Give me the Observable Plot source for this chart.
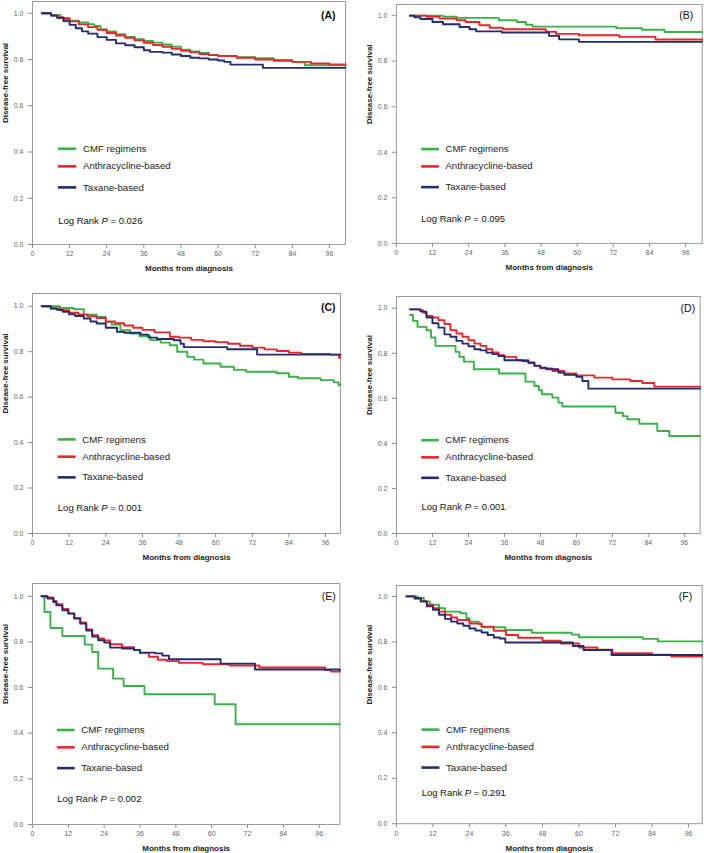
<!DOCTYPE html>
<html>
<head>
<meta charset="utf-8">
<script src="https://cdn.jsdelivr.net/npm/d3@7"></script>
<script src="https://cdn.jsdelivr.net/npm/@observablehq/plot@0.6"></script>
<style>
  html, body { margin: 0; padding: 0; background: #fff; overflow: hidden; }
  #wrap { position: relative; width: 704px; height: 853px; background: #fff; }
  .panel { position: absolute; }
</style>
</head>
<body>
<div id="wrap"></div>
<script>
// ---- categories, colours, ticks ----
const seriesNames = ["CMF regimens", "Anthracycline-based", "Taxane-based"];
const seriesColors = ["#3bb04a", "#e8262d", "#232c6e"];
const xTicks = [0, 12, 24, 36, 48, 60, 72, 84, 96];
const yTicks = [0, 0.2, 0.4, 0.6, 0.8, 1.0];
const panelTags = ["(A)", "(B)", "(C)", "(D)", "(E)", "(F)"];
const pValues = ["0.026", "0.095", "0.001", "0.001", "0.002", "0.291"];

// ---- survival data: [month of step, survival after step] ----
const A_CMF = [[3,1],[6,0.993],[9,0.98],[12,0.968],[15,0.96],[18,0.953],[20,0.945],[22,0.93],[24,0.922],[27,0.91],[30,0.898],[33,0.888],[36,0.88],[39,0.873],[42,0.865],[45,0.855],[48,0.842],[51,0.835],[54,0.828],[57,0.82],[60,0.816],[66,0.81],[72,0.806],[78,0.798],[84,0.79],[88,0.775],[101.2,0.772]];
const A_ANT = [[3,1],[6,0.99],[8,0.983],[10,0.975],[12,0.965],[15,0.952],[18,0.94],[21,0.929],[24,0.915],[27,0.904],[30,0.894],[33,0.883],[36,0.872],[39,0.863],[42,0.855],[45,0.846],[48,0.838],[51,0.831],[54,0.824],[57,0.819],[60,0.815],[66,0.808],[72,0.8],[78,0.795],[84,0.79],[90,0.783],[96,0.779],[101.2,0.776]];
const A_TAX = [[3,1],[6,0.99],[8,0.98],[10,0.966],[12,0.95],[14,0.935],[16,0.922],[18,0.912],[21,0.897],[24,0.885],[27,0.87],[30,0.862],[33,0.853],[36,0.84],[38,0.833],[42,0.83],[45,0.822],[48,0.815],[51,0.808],[54,0.805],[57,0.8],[60,0.796],[62,0.79],[64,0.778],[74.5,0.764],[101.2,0.764]];

const B_CMF = [[4.5,1],[15.5,0.995],[20,0.99],[34,0.98],[40,0.972],[43,0.96],[45.2,0.952],[73,0.945],[81.5,0.938],[89,0.928],[101.5,0.928]];
const B_ANT = [[4.5,1],[10,0.995],[14.4,0.987],[20,0.98],[23,0.972],[27.6,0.958],[31,0.947],[35.3,0.94],[49.6,0.929],[53,0.92],[60.6,0.914],[74,0.907],[86,0.895],[101.5,0.895]];
const B_TAX = [[4.5,1],[6,0.993],[8,0.985],[12,0.972],[15.5,0.962],[21,0.95],[24.3,0.94],[26.5,0.931],[35,0.926],[50.7,0.911],[54,0.896],[60.6,0.885],[101.5,0.885]];

const C_CMF = [[3,1],[9,0.992],[13.5,0.987],[16.8,0.963],[21,0.953],[24,0.931],[26,0.919],[28.8,0.894],[32,0.88],[35,0.868],[38.6,0.851],[42,0.84],[45,0.828],[47.4,0.8],[50.7,0.777],[53,0.765],[56,0.748],[61.6,0.734],[66,0.72],[70,0.712],[80,0.705],[84,0.69],[87,0.683],[94.4,0.675],[98.7,0.665],[100.3,0.652],[100.9,0.652]];
const C_ANT = [[3,1],[6,0.99],[9,0.982],[12,0.971],[15,0.964],[18,0.956],[21,0.948],[24,0.933],[27,0.925],[30,0.915],[33,0.905],[36,0.896],[40,0.885],[45,0.866],[48,0.862],[52,0.852],[56,0.846],[60,0.842],[64,0.835],[68,0.826],[72,0.818],[76,0.81],[80,0.803],[84,0.796],[88,0.79],[97.6,0.787],[100.4,0.773],[100.9,0.773]];
const C_TAX = [[3,1],[6,0.99],[8,0.984],[10,0.975],[12,0.964],[14,0.957],[16.8,0.946],[19,0.933],[21,0.924],[24,0.905],[27.7,0.887],[30,0.883],[35.4,0.875],[38,0.862],[40.8,0.856],[46.3,0.85],[48.5,0.835],[49.6,0.82],[63.8,0.811],[73.6,0.787],[100.9,0.787]];

const D_CMF = [[4.5,0.97],[5.5,0.944],[7,0.917],[10,0.902],[11.5,0.87],[13,0.833],[19.7,0.806],[21,0.784],[22.5,0.763],[25.8,0.729],[34.2,0.71],[43,0.674],[46,0.655],[47.5,0.636],[48.5,0.618],[52,0.603],[54,0.581],[55.3,0.564],[73,0.536],[75.5,0.521],[77,0.507],[81,0.487],[87,0.455],[91,0.433],[101.3,0.433]];
const D_ANT = [[4.5,0.995],[8,0.99],[9,0.98],[10,0.966],[12,0.959],[14,0.947],[16,0.93],[18,0.902],[20,0.888],[22,0.873],[24,0.858],[26,0.843],[28,0.833],[30,0.818],[32,0.804],[34,0.791],[36,0.784],[40,0.769],[44,0.757],[46,0.745],[48,0.733],[52,0.721],[56,0.71],[60,0.702],[66,0.692],[72,0.684],[78,0.677],[82,0.668],[86,0.652],[101.3,0.652]];
const D_TAX = [[4.5,0.995],[8,0.985],[10,0.959],[12,0.933],[14,0.914],[16,0.884],[18,0.873],[20,0.855],[22,0.843],[24,0.831],[26,0.818],[28,0.813],[30,0.803],[32,0.796],[34,0.788],[36,0.769],[42,0.766],[44,0.759],[46,0.744],[48,0.736],[50,0.729],[54,0.714],[56,0.704],[60,0.695],[62,0.677],[64,0.643],[101.3,0.643]];

const E_CMF = [[3.5,1],[4,0.931],[6,0.861],[10,0.826],[17.5,0.788],[20,0.756],[22,0.683],[27,0.639],[30.5,0.607],[37.5,0.571],[61,0.527],[68,0.439],[102.9,0.439]];
const E_ANT = [[3,1],[5,0.995],[7,0.98],[8,0.965],[10,0.945],[12,0.925],[14,0.905],[16,0.885],[18,0.855],[20,0.83],[22,0.815],[24,0.806],[26,0.79],[30,0.777],[34,0.765],[36,0.752],[39,0.735],[42,0.722],[45,0.716],[49,0.708],[57,0.702],[66,0.697],[76,0.688],[98,0.677],[100,0.67],[102.9,0.67]];
const E_TAX = [[3,1],[5,0.99],[7,0.975],[8,0.96],[10,0.939],[12,0.924],[14,0.902],[16,0.88],[18,0.85],[20,0.823],[22,0.807],[24,0.797],[26,0.775],[30,0.771],[34,0.764],[36,0.753],[41,0.75],[43.5,0.74],[45.7,0.724],[63,0.705],[74.5,0.679],[102.9,0.675]];

const F_CMF = [[3.3,1],[7,0.993],[9,0.978],[11,0.963],[14,0.948],[16,0.933],[21,0.926],[23,0.904],[24,0.889],[27,0.877],[28,0.864],[35.8,0.852],[44.5,0.84],[57.6,0.832],[60,0.82],[81,0.813],[86,0.802],[100.5,0.802]];
const F_ANT = [[3.3,1],[6,0.99],[8,0.978],[10,0.963],[12,0.948],[14,0.933],[16,0.919],[18,0.907],[20,0.896],[24,0.881],[28,0.867],[32,0.849],[36,0.83],[40,0.818],[48,0.805],[54,0.793],[60,0.775],[66,0.765],[71,0.75],[84,0.744],[90.4,0.735],[100.5,0.735]];
const F_TAX = [[3.3,1],[6,0.993],[8,0.978],[10,0.956],[12,0.941],[14,0.919],[16,0.901],[18,0.889],[20,0.881],[22,0.871],[24,0.859],[26,0.85],[28,0.841],[30,0.83],[32,0.819],[34,0.815],[35.8,0.797],[58,0.782],[61.5,0.764],[70.7,0.742],[100.5,0.742]];

// ---- panel layout (page pixels of each frame) ----
const panels = [
  {series:[A_CMF,A_ANT,A_TAX], L:32,    T:1,     R:345,   y0:244,   xmax:101.2, ymax:1.051, pY:0.104, tagDx:-10, tagDy:14,   tagBold:true},
  {series:[B_CMF,B_ANT,B_TAX], L:396.3, T:3.7,   R:704,   y0:244,   xmax:101.5, ymax:1.049, pY:0.109, tagDx:-9,  tagDy:11,   tagBold:false},
  {series:[C_CMF,C_ANT,C_TAX], L:32,    T:293,   R:340,   y0:533,   xmax:100.9, ymax:1.056, pY:0.113, tagDx:-5,  tagDy:13.7, tagBold:true},
  {series:[D_CMF,D_ANT,D_TAX], L:396.3, T:296.3, R:700,   y0:533.3, xmax:101.3, ymax:1.052, pY:0.118, tagDx:-5,  tagDy:11.7, tagBold:false},
  {series:[E_CMF,E_ANT,E_TAX], L:31.7,  T:583,   R:339,   y0:824,   xmax:102.9, ymax:1.056, pY:0.114, tagDx:-4,  tagDy:13,   tagBold:false},
  {series:[F_CMF,F_ANT,F_TAX], L:396.3, T:585.3, R:702.7, y0:824,   xmax:100.5, ymax:1.048, pY:0.136, tagDx:-10, tagDy:11,   tagBold:false}
];
const legendY = [0.414, 0.338, 0.247];

const FONT = "'Liberation Sans', Arial, sans-serif";
const wrap = document.getElementById("wrap");
const mL = 32, mR = 2, mT = 2, mB = 40;

panels.forEach((p, idx) => {
  const rows = p.series.flatMap((arr, i) => arr.map(([m, s]) => ({m, s, g: seriesNames[i]})));
  const legend = seriesNames.map((n, i) => ({n, y: legendY[i]}));
  const chart = Plot.plot({
    width: (p.R - p.L) + mL + mR,
    height: (p.y0 - p.T) + mT + mB,
    marginLeft: mL, marginRight: mR, marginTop: mT, marginBottom: mB,
    style: {fontFamily: FONT, fontSize: "7px", background: "transparent", overflow: "visible"},
    x: {domain: [0, p.xmax]},
    y: {domain: [0, p.ymax]},
    color: {domain: seriesNames, range: seriesColors},
    marks: [
      Plot.axisX({ticks: xTicks, tickSize: 4, tickPadding: 3, fontSize: 7, label: null, stroke: "#8a8a8a", fill: "#666"}),
      Plot.axisY({ticks: yTicks, tickSize: 4, tickPadding: 5, fontSize: 7, label: null, tickFormat: d3.format(".1f"), stroke: "#8a8a8a", fill: "#666"}),
      Plot.frame({stroke: "#9a9a9a"}),
      Plot.line(rows, {x: "m", y: "s", z: "g", stroke: "g", curve: "step-after", strokeWidth: 1.9}),
      Plot.ruleY(legend, {y: "y", x1: 8.4, x2: 14.3, stroke: "n", strokeWidth: 2.6}),
      Plot.text(legend, {x: 16.3, y: "y", text: "n", textAnchor: "start", fontSize: 9.7, fill: "#222"}),
      Plot.text([`Log Rank P = ${pValues[idx]}`], {x: 8.3, y: p.pY, text: d => d, textAnchor: "start", fontSize: 9.5, fill: "#111"}),
      Plot.text([panelTags[idx]], {frameAnchor: "top-right", text: d => d, dx: p.tagDx, dy: p.tagDy, textAnchor: "end", lineAnchor: "middle", fontSize: 10.5, fontWeight: p.tagBold ? "bold" : "normal", fill: "#111"}),
      Plot.text(["Disease-free survival"], {frameAnchor: "left", text: d => d, dx: -27.5, rotate: -90, lineAnchor: "middle", fontSize: 8, fontWeight: "bold", fill: "#222"}),
      Plot.text(["Months from diagnosis"], {frameAnchor: "bottom", text: d => d, dy: 24.3, lineAnchor: "middle", fontSize: 8, fontWeight: "bold", fill: "#222"})
    ]
  });
  // italic P in the log-rank note
  chart.querySelectorAll("text").forEach(t => {
    const s = t.textContent;
    if (s.startsWith("Log Rank P")) {
      const rest = s.slice("Log Rank P".length);
      t.textContent = "";
      t.appendChild(document.createTextNode("Log Rank "));
      const ts = document.createElementNS("http://www.w3.org/2000/svg", "tspan");
      ts.setAttribute("font-style", "italic");
      ts.textContent = "P";
      t.appendChild(ts);
      t.appendChild(document.createTextNode(rest));
    }
  });
  const div = document.createElement("div");
  div.className = "panel";
  div.style.left = (p.L - mL) + "px";
  div.style.top = (p.T - mT) + "px";
  div.appendChild(chart);
  wrap.appendChild(div);
});
</script>
</body>
</html>
